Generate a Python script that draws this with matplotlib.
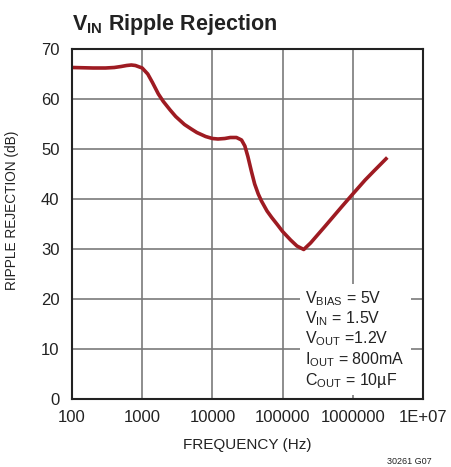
import matplotlib
matplotlib.use('Agg')
import matplotlib.pyplot as plt

plt.rcParams['font.family'] = ['Liberation Sans', 'DejaVu Sans']
plt.rcParams['mathtext.fontset'] = 'custom'
plt.rcParams['mathtext.rm'] = 'Liberation Sans'
plt.rcParams['mathtext.bf'] = 'Liberation Sans:bold'

# frequency (Hz) and ripple rejection (dB)
freq = [100, 200, 300, 400, 500, 600, 700, 800, 1000, 1200, 1400, 1700, 2000, 2500,
        3000, 4000, 5000, 6000, 8000, 10000, 12000, 15000, 18000, 22000, 26000, 29000,
        32000, 36000, 40000, 45000, 50000, 60000, 70000, 85000, 100000, 130000, 160000,
        200000, 250000, 400000, 700000, 1000000, 1500000, 2000000, 3100000]
rej = [66.3, 66.2, 66.2, 66.3, 66.5, 66.7, 66.8, 66.7, 66.2, 65.0, 63.3, 61.0, 59.5, 57.8,
       56.5, 54.9, 54.0, 53.3, 52.5, 52.1, 52.0, 52.1, 52.3, 52.3, 51.8, 50.6,
       48.5, 45.5, 43.0, 41.0, 39.6, 37.6, 36.3, 34.8, 33.5, 31.8, 30.6,
       29.9, 31.2, 34.5, 38.5, 41.0, 43.8, 45.6, 48.3]

xticks = [100, 1000, 10000, 100000, 1000000, 10000000]
xticklabels = ['100', '1000', '10000', '100000', '1000000', '1E+07']
yticks = [0, 10, 20, 30, 40, 50, 60, 70]

fig = plt.figure(figsize=(4.51, 4.67), dpi=100)
ax = fig.add_axes([72/451, 1-399/467, 351/451, 350/467])

ax.plot(freq, rej, color='#9e1b22', lw=2.6, solid_capstyle='butt', zorder=3)
ax.set_xscale('log')
ax.set_xlim(100, 1e7)
ax.set_ylim(0, 70)
ax.set_xticks(xticks)
ax.set_xticklabels(xticklabels)
ax.xaxis.set_minor_locator(matplotlib.ticker.NullLocator())
ax.set_yticks(yticks)
ax.tick_params(length=0, labelsize=12, colors='#222222')
ax.tick_params(axis='x', pad=8)
ax.tick_params(axis='y', pad=9)
ax.grid(True, color='#7a7a7a', lw=1.2)
for s in ax.spines.values():
    s.set_color('#222222')
    s.set_linewidth(1.5)
    s.set_zorder(4)

ax.set_xlabel('FREQUENCY (Hz)', fontsize=11, color='#222222', labelpad=9)
ax.set_ylabel('RIPPLE REJECTION (dB)', fontsize=9.8, color='#222222')
ax.yaxis.set_label_coords(-0.152, 0.54)

cond = (r'V$_{\mathrm{BIAS}}$ = 5V' + '\n' + r'V$_{\mathrm{IN}}$ = 1.5V' + '\n' +
        r'V$_{\mathrm{OUT}}$ =1.2V' + '\n' + r'I$_{\mathrm{OUT}}$ = 800mA' + '\n' +
        r'C$_{\mathrm{OUT}}$ = 10µF')
ax.text(0.665, 0.027, cond, transform=ax.transAxes, fontsize=11.5, color='#222222',
        va='bottom', ha='left', linespacing=1.12, zorder=2.5,
        bbox=dict(facecolor='white', edgecolor='none', pad=4))

fig.text(72/451, 1-30/467, r'V$_{\mathbf{IN}}$ Ripple Rejection', fontsize=15.5,
         fontweight='bold', color='#222222', ha='left', va='baseline')
fig.text(432/451, 1-464/467, '30261 G07', fontsize=6.5, color='#222222',
         ha='right', va='baseline')

fig.savefig('out.png', dpi=100)
